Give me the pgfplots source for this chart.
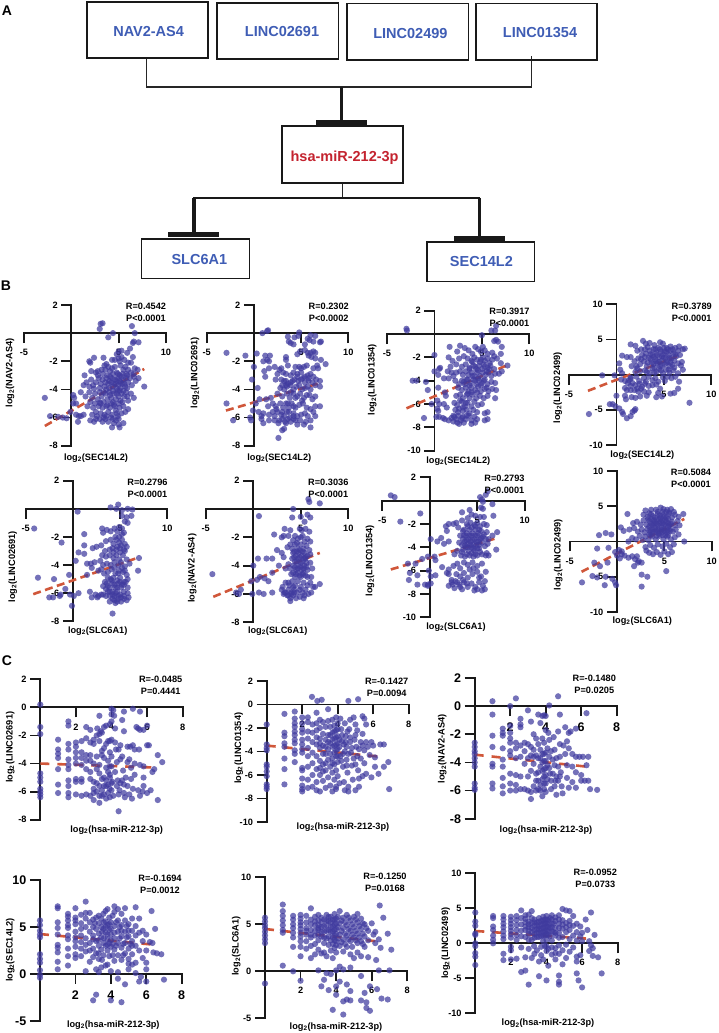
\documentclass[border=0pt]{standalone}
\usepackage{fontspec}
\setmainfont{Liberation Sans}
\usepackage{pgfplots}
\pgfplotsset{compat=1.18}
\newcommand{\fs}[1]{\fontsize{#1}{#1}\selectfont}
\newcommand{\lt}{log\textsubscript{2}}
\definecolor{dot}{HTML}{3F3A9E}
\definecolor{trend}{HTML}{D0573A}
\definecolor{boxblue}{HTML}{3F5DB5}
\definecolor{mirred}{HTML}{C4232F}
% left, right, top, bottom of an axis, in reference pixels
\newcommand{\setpanel}[4]{\pgfmathsetmacro\pW{#2-#1}\pgfmathsetmacro\pH{#4-#3}\def\pL{#1}\def\pB{#4}}
\pgfplotsset{
  panel/.style={
    at={(\pL pt,{1033pt-\pB pt})},anchor=south west,width=\pW pt,height=\pH pt,
    scale only axis,clip=false,axis lines=middle,
    every inner x axis line/.append style={-},every inner y axis line/.append style={-},
    axis line style={-,black!90,line width=1.8pt,line cap=rect},
    tick align=outside,major tick length=10pt,minor tick num=0,
    tick style={black!90,line width=1.8pt},
    hide obscured x ticks=false,hide obscured y ticks=false,
    /pgf/number format/assume math mode=true,
    tick label style={font=\bfseries\fs{9.2},inner sep=0pt},
    xticklabel shift=6pt,yticklabel shift=3.5pt,
  },
  bigticks/.style={tick label style={font=\bfseries\fs{12.5}},xticklabel shift=6.5pt},
  xlab/.style n args={3}{xlabel={\lt(#1)},
    x label style={at={([xshift={(#2-\pL)*1pt},yshift={(\pB-#3)*1pt}]rel axis cs:0,0)},anchor=center,font=\bfseries\fs{9.2}}},
  ylab/.style n args={3}{ylabel={\lt(#1)},
    y label style={at={([xshift={(#2-\pL)*1pt},yshift={(\pB-#3)*1pt}]rel axis cs:0,0)},anchor=center,rotate=90,font=\bfseries\fs{9.2}}},
  sec/.style={xmin=-5,xmax=10,xtick={-5,5,10}},
  mir/.style={xmin=0,xmax=8,xtick={2,4,6,8}},
  dots/.style={only marks,mark=*,mark size=3.1pt,mark options={draw=dot,fill=dot,draw opacity=0,fill opacity=0.72}},
  fit/.style={no marks,trend,line width=2.6pt,dash pattern=on 8pt off 4.5pt},
  fitc/.style={no marks,trend,line width=2.6pt,dash pattern=on 9pt off 8pt},
}
\begin{document}
\begin{tikzpicture}
\useasboundingbox (0,0) rectangle (718pt,1033pt);

% B, top row
\setpanel{24}{166}{305}{445.7}
\begin{axis}[panel,sec,ymin=-8,ymax=2,ytick={2,-2,-4,-6,-8},
  xlab={SEC14L2}{96}{457.7},ylab={NAV2-AS4}{10}{373}]
\addplot[fit] coordinates {(-2.8,-6.6)(7.7,-2.55)};
\addplot[dots] coordinates {
(3.1,.66)(3.0,.3)(3.3,.7)(4.4,0)(3.9,-.3)(6.4,.5)(6.7,0)(6.6,-.6)(7.1,-.65)(6.5,-.7)(-2.8,-4.6)(-2.25,-5.9)(7.7,-3.8)(-1.4,-5.95)(-.9,-6.0)(-.5,-6.05)(-.1,-5.6)(.3,-4.6)(.2,-5.0)(.5,-5.0)(.5,-5.8)(.8,-5.9)(1.3,-5.8)
(5.0,-1.3)(4.8,-1.5)(5.3,-1.25)(6.2,-1.1)(5.9,-1.4)(5.3,-1.7)(4.3,-1.9)(3.4,-1.75)(2.4,-1.75)(1.9,-2.0)(2.0,-2.1)(6.5,-1.7)(5.6,-1.9)(6.3,-2.1)(5.0,-1.8)(4.6,-1.9)
(1.4,-3.0)(2.1,-2.7)(2.6,-2.8)(2.8,-2.7)(3.2,-2.6)(3.3,-2.9)(3.7,-2.2)(3.6,-2.6)(4.1,-2.7)(4.3,-2.5)(4.6,-2.4)(4.8,-2.8)(5.2,-2.3)(5.5,-2.6)(5.7,-2.4)(6.0,-2.6)(6.3,-2.8)(6.7,-2.5)(7.0,-2.6)(4.9,-2.9)(5.4,-2.9)(5.8,-2.9)(3.9,-2.4)(4.4,-2.9)(6.6,-2.9)
(1.0,-4.2)(1.3,-3.7)(1.6,-3.5)(1.9,-3.8)(2.1,-3.3)(2.3,-3.7)(2.6,-3.5)(2.9,-3.2)(3.1,-3.6)(3.3,-3.3)(3.5,-3.8)(3.7,-3.2)(3.9,-3.6)(4.1,-3.1)(4.2,-3.5)(4.4,-3.8)(4.6,-3.3)(4.7,-3.6)(4.9,-3.2)(5.0,-3.7)(5.1,-3.4)(5.3,-3.1)(5.4,-3.6)(5.5,-3.3)(5.7,-3.8)(5.8,-3.2)(6.0,-3.5)(6.2,-3.2)(6.4,-3.7)(6.6,-3.1)(6.8,-3.4)(7.1,-3.2)(4.0,-3.9)(3.0,-3.9)(2.4,-3.95)(4.8,-3.95)(5.2,-3.9)
(.2,-4.4)(1.5,-4.5)(1.9,-4.2)(2.2,-4.6)(2.5,-4.3)(2.8,-4.7)(3.0,-4.2)(3.2,-4.5)(3.4,-4.9)(3.6,-4.3)(3.8,-4.7)(4.0,-4.2)(4.2,-4.6)(4.4,-4.9)(4.5,-4.3)(4.7,-4.7)(4.9,-4.1)(5.0,-4.5)(5.2,-4.8)(5.3,-4.3)(5.6,-4.5)(5.8,-4.2)(6.0,-4.8)(6.3,-4.3)(2.0,-4.9)(3.0,-4.95)(6.6,-4.6)
(1.7,-5.2)(2.3,-5.3)(2.6,-5.6)(2.9,-5.2)(3.1,-5.7)(3.3,-5.3)(3.5,-5.8)(3.7,-5.2)(3.9,-5.6)(4.1,-5.3)(4.3,-5.8)(4.5,-5.1)(4.7,-5.5)(4.9,-5.9)(5.1,-5.3)(5.3,-5.7)(5.5,-5.2)(5.7,-5.6)(6.0,-5.4)(2.2,-5.8)(2.7,-5.9)(1.0,-5.9)
(.7,-6.3)(2.0,-6.2)(2.4,-6.3)(2.6,-6.1)(3.0,-6.1)(3.3,-6.3)(3.6,-6.1)(3.9,-6.3)(4.2,-6.0)(4.3,-6.7)(4.7,-6.2)(5.0,-6.5)(5.1,-6.7)(5.5,-6.4)(5.0,-6.1)(4.5,-6.4)
(3.6,-3.5)(3.8,-3.0)(4.0,-3.4)(4.3,-3.2)(4.5,-3.6)(4.8,-3.4)(5.1,-3.0)(5.2,-3.5)(5.6,-3.6)(5.9,-3.0)(3.4,-4.2)(3.7,-4.0)(4.1,-4.4)(4.4,-4.1)(4.8,-4.3)(5.1,-4.1)(5.5,-4.1)(5.9,-4.5)(3.1,-5.0)(3.8,-5.1)(4.2,-5.0)(4.6,-5.2)(5.0,-5.0)(5.4,-4.9)(3.4,-6.0)(3.7,-5.9)(4.4,-6.1)(4.8,-5.7)(2.5,-5.0)(2.8,-3.0)(3.5,-2.3)(5.1,-2.0)(6.0,-2.1)(5.9,-3.9)};
\end{axis}

\setpanel{206.7}{348.3}{305}{445.7}
\begin{axis}[panel,sec,ymin=-8,ymax=2,ytick={2,-2,-4,-6,-8},
  xlab={SEC14L2}{279.3}{457.7},ylab={LINC02691}{195}{373}]
\addplot[fit] coordinates {(-2.96,-5.5)(7,-3.55)};
\addplot[dots] coordinates {
(1.4,.15)(1.5,.2)(.9,0)(4.8,.05)(4.7,-.2)(6.0,-.15)(6.5,-.2)(3.6,-.25)(4.3,-.3)(5.7,-.4)(5.9,-.5)(7.1,-.6)(7.0,-.65)(3.9,-.7)(3.7,-.6)(4.2,-.8)(5.4,-.8)(6.3,-.6)
(-2.9,-1.4)(-.9,-1.6)(.3,-1.45)(1.2,-1.6)(1.7,-1.6)(3.4,-1.7)(3.4,-1.9)(4.6,-1.5)(4.9,-1.3)(5.4,-1.2)(5.7,-1.4)(6.0,-1.4)(6.3,-1.3)(6.5,-1.4)(5.8,-1.6)(6.1,-1.7)(6.5,-1.8)(7.1,-1.9)
(1.4,-1.9)(1.6,-2.0)(1.0,-2.0)(0,-2.4)(1.1,-2.7)(1.6,-2.5)(2.2,-2.4)(3.6,-2.3)(2.9,-2.5)(4.4,-2.4)(4.8,-2.4)(5.0,-2.5)(5.3,-2.4)(5.6,-2.3)(6.3,-2.5)(6.7,-2.3)(7.6,-2.2)(6.8,-2.5)
(-.2,-3.3)(1.2,-3.1)(2.5,-2.9)(2.7,-2.6)(3.1,-2.8)(3.4,-2.9)(3.9,-3.0)(4.2,-2.8)(4.6,-2.9)(5.0,-2.8)(5.4,-3.1)(5.7,-3.0)(6.0,-2.9)(6.3,-3.1)(6.6,-3.3)(7.0,-3.4)(2.3,-3.3)(3.4,-3.4)(3.9,-3.5)(4.3,-3.3)(4.7,-3.4)(5.0,-3.3)(5.4,-3.5)(5.8,-3.4)(6.2,-3.5)
(.4,-3.9)(2.8,-3.9)(3.0,-3.7)(3.2,-4.0)(3.5,-3.8)(3.9,-3.7)(4.2,-4.0)(4.5,-3.8)(4.8,-3.7)(5.1,-4.0)(5.4,-3.9)(5.7,-3.8)(6.0,-4.0)(6.5,-3.7)(7.0,-3.8)
(.6,-4.7)(1.3,-4.7)(1.8,-4.6)(2.5,-4.3)(3.0,-4.5)(3.5,-4.3)(3.8,-4.6)(4.2,-4.3)(4.6,-4.5)(4.9,-4.3)(5.3,-4.6)(5.6,-4.4)(5.9,-4.4)(6.2,-4.7)(6.5,-4.5)
(.2,-5.0)(1.5,-5.2)(2.0,-5.0)(2.3,-5.2)(2.8,-5.0)(3.1,-5.3)(3.4,-5.0)(3.7,-5.3)(4.0,-5.0)(4.4,-5.3)(4.8,-5.1)(5.2,-5.0)(5.6,-5.3)(6.0,-5.4)(6.5,-5.2)(7.0,-5.2)(-2.9,-5.0)(-.1,-5.5)
(-2.2,-6.2)(-.4,-6.0)(-.3,-6.2)(.5,-5.6)(.8,-5.9)(1.0,-5.7)(1.6,-5.8)(2.0,-5.6)(2.2,-5.9)(2.5,-5.6)(2.9,-5.8)(3.2,-5.9)(3.5,-5.6)(3.8,-6.0)(4.2,-5.7)(4.6,-5.9)(5.0,-5.8)(5.4,-5.7)(5.7,-5.9)(6.3,-5.6)(6.5,-5.9)
(.8,-6.1)(1.0,-6.4)(1.6,-6.2)(2.2,-6.2)(2.6,-6.4)(3.0,-6.1)(3.3,-6.3)(3.6,-6.1)(3.9,-6.3)(4.2,-6.1)(4.6,-6.5)(4.9,-6.2)(5.3,-6.5)(5.5,-6.3)(6.0,-6.2)(6.0,-6.7)(3.2,-6.8)(3.0,-6.9)(2.6,-7.45)
(4.2,-5.9)(4.4,-6.2)(3.4,-6.4)(3.7,-5.6)(2.7,-6.2)(2.4,-5.4)(3.0,-5.6)(3.6,-5.0)(4.2,-5.2)(3.9,-4.2)(4.1,-3.4)(3.6,-3.6)(4.4,-4.6)(5.1,-4.8)(2.9,-3.3)(3.2,-3.4)(3.4,-3.7)(4.6,-3.1)(5.2,-3.2)(5.8,-3.2)};
\end{axis}

\setpanel{387}{529.3}{310.7}{450.7}
\begin{axis}[panel,sec,ymin=-10,ymax=2,ytick={2,-2,-4,-6,-8,-10},
  xlab={SEC14L2}{458.3}{460.7},ylab={LINC01354}{372.3}{380}]
\addplot[fit] coordinates {(-2.95,-6.37)(7.7,-2.66)};
\addplot[dots] coordinates {
(-2.9,.3)(-2.95,.45)(5.0,-.1)(6.0,.3)(6.4,.3)(6.5,.7)(6.5,-.5)(6.3,-.6)(6.7,-.65)
(1.6,-1.1)(3.2,-1.2)(2.7,-1.0)(4.3,-1.1)(4.6,-1.3)(4.9,-1.5)(5.1,-1.1)(5.3,-1.4)(5.6,-1.7)(7.1,-1.1)(6.1,-1.6)(6.3,-1.9)(4.0,-1.7)(3.6,-1.4)(2.4,-1.5)(0,-1.8)(7.0,-1.7)
(1.5,-2.0)(1.9,-2.3)(2.6,-2.1)(3.1,-1.9)(3.5,-2.1)(3.9,-2.3)(4.2,-2.0)(4.5,-2.2)(4.8,-2.4)(5.1,-2.0)(5.3,-2.3)(5.6,-2.1)(5.8,-2.5)(6.1,-2.2)(6.6,-2.1)(7.0,-2.5)(1.7,-2.8)(.6,-2.9)(.5,-3.0)
(2.3,-2.6)(2.9,-2.8)(3.3,-2.6)(3.7,-2.9)(4.1,-2.7)(4.4,-3.0)(4.7,-2.7)(5.0,-3.0)(5.3,-2.8)(5.6,-2.9)(5.9,-2.7)(6.3,-3.0)(7.7,-2.7)(7.1,-3.2)
(0,-3.2)(.4,-3.5)(1.4,-3.2)(1.8,-3.3)(2.0,-3.6)(2.3,-3.3)(2.7,-3.2)(3.0,-3.5)(3.3,-3.2)(3.6,-3.5)(3.9,-3.3)(4.2,-3.6)(4.5,-3.3)(4.8,-3.6)(5.1,-3.3)(5.4,-3.5)(5.7,-3.3)(6.0,-3.6)(6.4,-3.4)(6.8,-3.4)(-2.3,-4.0)(-1.9,-4.0)(-.9,-4.1)(1.0,-3.8)(1.5,-3.8)
(2.2,-4.0)(2.6,-4.3)(2.9,-4.0)(3.2,-4.3)(3.5,-3.9)(3.8,-4.2)(4.1,-3.9)(4.4,-4.3)(4.7,-4.0)(5.0,-4.2)(5.3,-3.9)(5.6,-4.3)(6.0,-4.1)(6.4,-4.2)(-.7,-4.8)(.4,-4.6)(2.5,-4.6)(2.9,-4.8)(3.3,-4.6)(3.6,-4.9)(3.9,-4.6)(4.3,-4.8)(4.6,-4.5)(4.9,-4.9)(5.3,-4.7)(5.7,-4.9)(6.1,-4.7)(6.5,-4.8)
(1.1,-5.0)(1.2,-5.3)(2.3,-5.3)(2.7,-5.2)(3.0,-5.5)(3.4,-5.2)(3.7,-5.5)(4.0,-5.2)(4.4,-5.5)(4.8,-5.3)(5.2,-5.5)(5.6,-5.3)(6.4,-5.5)(.3,-5.7)(-.3,-6.0)(.5,-6.0)(1.0,-6.0)(1.3,-6.3)
(2.1,-5.9)(2.4,-6.1)(2.9,-5.8)(3.2,-6.2)(3.5,-5.9)(3.9,-6.2)(4.2,-5.8)(4.6,-6.1)(5.0,-6.0)(.3,-6.4)(.4,-6.6)(2.2,-6.5)(2.6,-6.4)(3.0,-6.6)(3.4,-6.5)(3.7,-6.8)(4.1,-6.5)(4.5,-6.7)(5.3,-6.8)(5.6,-6.7)
(-1.1,-7.2)(.2,-7.1)(.5,-7.1)(.9,-7.2)(1.1,-7.3)(1.5,-7.4)(2.0,-7.0)(2.3,-7.3)(2.5,-7.0)(2.8,-7.4)(3.0,-7.1)(3.3,-7.3)(3.6,-7.0)(3.9,-7.4)(4.2,-7.1)(4.5,-7.3)(2.6,-7.7)(2.0,-7.5)(3.9,-7.7)(4.3,-7.6)(5.3,-7.4)(5.6,-7.3)
(3.7,-3.0)(4.0,-2.4)(4.3,-2.8)(4.6,-3.1)(4.9,-2.2)(5.2,-2.6)(5.5,-3.2)(5.8,-3.0)(3.4,-3.9)(3.7,-4.4)(4.0,-3.6)(4.3,-4.0)(4.6,-3.8)(4.9,-4.4)(5.2,-4.0)(5.5,-4.6)(3.1,-4.1)(3.5,-5.1)(3.9,-5.0)(4.5,-5.0)(3.0,-6.3)(2.5,-6.7)(2.9,-7.2)(2.4,-7.6)(3.1,-7.6)(2.1,-7.1)(3.4,-7.0)(1.8,-7.2)(2.7,-5.7)(3.3,-5.9)};
\end{axis}

\setpanel{569}{711.3}{304.3}{445}
\begin{axis}[panel,sec,ymin=-10,ymax=10,ytick={10,5,-5,-10},
  xlab={SEC14L2}{642.3}{454.7},ylab={LINC02499}{557.7}{388}]
\addplot[fit] coordinates {(-3,-2.3)(6.7,2.76)};
\addplot[dots] coordinates {
(-2.9,-5.6)(-.2,-.1)(-1.5,-.1)(7.7,-4.0)(0,-3.0)(-.4,-4.2)(-.7,-4.2)(-.1,-4.5)(.3,-4.8)(.6,-5.3)(.7,-5.6)(1.1,-6.2)(1.5,-5.9)(1.7,-5.3)(1.9,-5.1)(2.0,-4.9)
(.3,1.6)(.4,.7)(.6,.2)(.6,2.7)(1.1,2.5)(1.5,2.5)(1.5,-.4)(.5,-.7)(.9,-.9)(1.2,-1.2)(1.5,-1.6)(.9,-1.9)(1.1,-2.2)(1.5,-2.2)(1.9,-2.2)(2.2,-2.0)(2.3,-2.4)(2.6,-2.0)(.9,-3.0)(1.0,-3.5)(1.6,-3.2)(2.0,-3.3)(2.5,-3.1)
(1.5,4.3)(2.0,4.1)(2.2,3.4)(2.8,4.8)(3.1,4.4)(3.0,3.6)(3.5,4.5)(4.0,4.2)(4.6,4.6)(4.9,4.4)(5.3,3.8)(5.7,4.0)(6.2,3.8)(6.6,4.0)(7.0,3.6)(7.2,3.7)(6.5,3.4)
(1.6,1.2)(1.9,1.9)(2.1,1.2)(2.3,2.3)(2.5,1.5)(2.7,2.8)(2.9,1.9)(3.1,3.0)(3.2,1.2)(3.4,2.4)(3.5,3.4)(3.7,1.7)(3.8,2.8)(3.9,3.6)(4.0,1.0)(4.1,2.2)(4.2,3.1)(4.3,1.6)(4.4,3.8)(4.5,2.5)(4.6,1.2)(4.7,3.3)(4.8,2.0)(4.9,2.9)(5.0,3.8)(5.1,1.5)(5.2,2.4)(5.3,3.2)(5.4,1.9)(5.5,2.8)(5.6,1.2)(5.7,3.4)(5.8,2.3)(5.9,1.4)(6.0,3.0)(6.1,2.0)(6.3,2.6)(6.5,1.6)(6.7,2.8)(6.9,1.8)(7.0,.7)(6.8,1.3)
(3.0,.6)(3.5,.3)(3.8,.9)(4.2,.4)(4.5,.8)(4.9,.2)(5.2,.7)(5.6,.3)(6.0,.6)(6.5,.2)(2.5,.5)(2.0,.4)
(1.5,-.6)(2.1,-.3)(2.4,-.9)(2.9,-.5)(3.1,-1.0)(3.4,-.3)(3.8,-.8)(4.1,-.5)(4.4,-1.0)(4.9,-.4)(5.1,-.9)(5.4,-.3)(5.8,-.5)(6.2,-.3)
(1.3,-.8)(1.7,-1.2)(2.0,-1.5)(2.4,-1.3)(2.7,-1.7)(3.0,-1.3)(3.4,-1.6)(3.8,-1.5)(4.2,-1.4)(6.6,-1.0)(6.5,-2.0)(6.1,-2.6)(5.7,-2.7)(4.6,-2.0)(4.4,-2.6)(4.2,-3.2)(4.8,-3.1)(3.2,-3.0)(3.4,-2.5)(2.9,-2.4)
(2.6,3.6)(3.3,3.9)(3.6,2.9)(3.9,2.5)(4.1,3.6)(4.3,2.8)(4.6,3.6)(4.8,2.6)(5.1,3.3)(5.4,3.6)(5.6,2.4)(5.9,3.6)(6.2,2.9)(2.6,2.2)(3.0,2.5)(3.3,1.7)(3.6,2.2)(3.9,1.5)(4.2,1.9)(4.5,1.8)(4.8,1.3)(5.0,2.4)(5.3,1.7)(5.7,1.7)(6.1,1.0)(2.2,.9)(3.2,.4)(4.0,.3)(4.7,.6)(5.5,.7)};
\end{axis}

% B, bottom row
\setpanel{25.7}{167.3}{480.7}{621.3}
\begin{axis}[panel,sec,ymin=-8,ymax=2,ytick={2,-2,-4,-6,-8},
  xlab={SLC6A1}{97.7}{631},ylab={LINC02691}{12.7}{566.7}]
\addplot[fit] coordinates {(-4.2,-6.07)(7,-3.45)};
\addplot[dots] coordinates {
(-4.1,-1.4)(-1.2,-2.4)(.5,-.2)(-3.7,-4.9)(-2.0,-5.0)(-2.5,-6.3)(-2.1,-6.3)(-1.4,-6.2)(-1.3,-6.1)(-.8,-5.7)(-.4,-4.7)(-.3,-6.1)(-.1,-6.9)(.1,-6.2)(.6,-6.0)(.3,-3.7)(.6,-3.1)(1.2,-3.2)(1.2,-2.6)(1.2,-1.8)
(4.0,.1)(4.8,.3)(4.6,.0)(5.2,-.1)(5.8,0)(6.3,-.05)(5.2,-.5)(5.7,-.6)(6.2,-.5)(5.5,-.9)(5.8,-1.0)(4.9,-1.3)
(3.1,-1.4)(3.2,-1.7)(3.6,-1.5)(4.0,-1.6)(4.4,-1.4)(4.7,-1.6)(5.2,-1.4)(5.4,-1.7)(2.1,-2.8)(2.5,-2.7)(3.0,-2.6)(3.5,-2.3)(4.0,-2.2)(4.3,-2.5)(4.6,-2.2)(4.9,-2.4)(5.2,-2.2)(5.5,-2.5)(3.4,-3.0)(3.9,-2.9)(4.2,-2.8)(4.6,-2.9)(5.0,-2.8)(5.4,-2.9)(5.7,-2.7)
(1.5,-3.9)(1.9,-3.9)(2.3,-3.8)(2.9,-3.7)(3.1,-3.3)(3.5,-3.4)(3.9,-3.3)(4.3,-3.5)(4.6,-3.3)(4.9,-3.6)(5.3,-3.3)(5.7,-3.6)(3.2,-4.0)(3.6,-3.9)(4.0,-4.0)(4.4,-3.8)(4.8,-4.0)(5.1,-3.8)(5.5,-4.1)(6.0,-3.9)(7.0,-3.5)(6.9,-4.4)(1.5,-4.7)(2.7,-4.4)(3.0,-4.3)(3.3,-4.6)(3.7,-4.5)(4.1,-4.3)(4.5,-4.6)(4.9,-4.4)(5.3,-4.5)(5.7,-4.7)
(2.0,-4.2)(3.7,-4.9)(4.0,-5.0)(4.3,-4.9)(4.7,-5.1)(5.0,-4.9)(5.4,-5.2)(5.8,-5.0)(3.2,-5.5)(3.6,-5.3)(3.9,-5.6)(4.2,-5.3)(4.5,-5.6)(4.8,-5.3)(5.1,-5.6)(5.4,-5.4)(5.8,-5.6)(3.4,-5.2)
(1.8,-5.9)(2.0,-6.3)(2.4,-6.1)(2.7,-6.2)(2.6,-6.3)(3.2,-6.1)(3.7,-5.9)(3.9,-6.2)(4.2,-5.9)(4.4,-6.2)(4.7,-5.9)(5.0,-6.1)(5.4,-5.9)(5.8,-6.0)(5.9,-6.3)(3.9,-6.6)(4.2,-6.4)(4.5,-6.7)(4.8,-6.4)(5.1,-6.6)(5.4,-6.4)(5.7,-6.5)(4.2,-7.45)
(4.5,-2.0)(4.9,-2.0)(5.2,-1.8)(4.7,-2.7)(5.1,-2.6)(5.5,-3.0)(5.0,-3.1)(4.3,-3.1)(4.4,-4.2)(4.8,-4.6)(5.2,-4.2)(5.5,-4.4)(3.7,-5.5)(4.1,-5.1)(4.4,-5.4)(4.7,-5.6)(5.0,-5.2)(5.2,-5.4)(5.6,-5.2)(3.5,-5.7)(3.9,-5.9)(4.2,-6.1)(4.5,-6.0)(4.8,-6.2)(5.1,-6.3)(5.4,-6.2)(4.4,-6.5)(4.7,-6.6)(3.5,-6.2)(3.0,-6.1)};
\end{axis}

\setpanel{205.7}{348.3}{480.7}{622.3}
\begin{axis}[panel,sec,ymin=-8,ymax=2,ytick={2,-2,-4,-6,-8},
  xlab={SLC6A1}{277.7}{631},ylab={NAV2-AS4}{192.3}{568.3}]
\addplot[fit] coordinates {(-4.2,-6.2)(7,-3.1)};
\addplot[dots] coordinates {
(-4.3,-4.6)(-1.8,-5.9)(-1.5,-6.0)(-1.3,-5.7)(-.2,-5.1)(0,-4.0)(.4,-5.0)(.6,-5.9)(-.1,-6.0)(1.1,-6.0)(.6,-.5)(.5,-3.5)(1.4,-3.5)(2.0,-3.5)(2.0,-4.5)(1.2,-4.9)(1.6,-5.1)(2.7,-4.0)(.7,-4.8)
(5.8,.7)(5.9,.5)(7.0,.4)(4.2,0)(5.7,-.4)(5.0,-.55)(4.1,-.6)(6.0,-.6)(5.4,-.9)(3.3,-1.4)(3.2,-1.9)(3.0,-2.0)(3.7,-1.9)(2.2,-1.8)(3.9,-1.5)(4.9,-1.4)(5.1,-1.5)(5.5,-1.4)(5.9,-1.6)(5.2,-1.9)(5.7,-2.1)(6.0,-2.3)(4.4,-1.9)(4.7,-2.1)
(2.5,-2.9)(3.0,-3.1)(3.6,-2.7)(3.9,-2.5)(4.1,-2.8)(4.4,-2.5)(4.7,-2.8)(5.0,-2.5)(5.3,-2.8)(5.6,-2.6)(5.9,-2.9)(4.2,-3.1)(4.5,-3.3)(4.8,-3.1)(5.1,-3.3)(5.4,-3.1)(5.7,-3.3)(6.0,-3.2)(4.1,-3.5)(4.4,-3.7)(4.7,-3.5)(5.0,-3.8)(5.3,-3.5)(5.6,-3.8)(6.0,-3.8)(3.2,-3.4)(3.7,-3.9)
(3.4,-4.2)(3.9,-4.2)(4.2,-4.0)(4.5,-4.3)(4.8,-4.0)(5.1,-4.3)(5.4,-4.0)(5.7,-4.3)(6.2,-4.2)(4.0,-4.6)(4.4,-4.8)(4.7,-4.5)(5.0,-4.8)(5.3,-4.5)(5.7,-4.8)(6.1,-4.8)(7.0,-5.3)(6.5,-5.5)
(3.1,-5.5)(3.4,-5.2)(3.8,-5.4)(4.1,-5.1)(4.4,-5.4)(4.7,-5.1)(5.0,-5.5)(5.3,-5.2)(5.7,-5.4)(6.0,-5.2)(6.3,-5.5)(6.1,-5.9)(2.0,-5.9)(3.0,-5.7)(3.4,-5.9)(3.7,-5.7)(4.0,-5.9)(4.3,-5.7)(4.6,-5.9)(4.9,-5.7)(5.2,-5.9)(5.5,-5.7)(5.8,-6.0)
(3.2,-6.0)(3.6,-6.1)(3.9,-6.3)(4.2,-6.1)(4.5,-6.3)(4.9,-6.2)(5.3,-6.3)(3.9,-6.5)(5.4,-6.1)
(4.3,-3.0)(4.6,-3.0)(4.9,-2.9)(5.2,-3.0)(5.5,-3.4)(4.3,-3.4)(4.6,-3.7)(4.9,-3.4)(5.2,-3.7)(5.5,-3.5)(4.4,-4.1)(4.7,-4.2)(5.0,-4.1)(5.3,-4.2)(5.6,-4.1)(4.2,-4.5)(4.5,-4.6)(4.9,-4.7)(5.2,-4.6)(5.5,-4.7)(4.2,-2.2)(4.6,-2.4)(5.0,-2.0)(5.4,-2.3)(3.7,-5.2)(4.2,-5.5)(3.3,-5.9)(3.7,-6.1)(4.3,-5.9)(4.0,-6.0)};
\end{axis}

\setpanel{382.3}{524.7}{477.3}{617.3}
\begin{axis}[panel,sec,ymin=-10,ymax=2,ytick={2,-2,-4,-6,-8,-10},
  xlab={SLC6A1}{456}{627},ylab={LINC01354}{370}{561}]
\addplot[fit] coordinates {(-4.1,-5.9)(7.1,-3.2)};
\addplot[dots] coordinates {
(-4.1,.45)(-3.7,.3)(-3.1,-1.8)(-1.0,-1.1)(5.5,.1)(5.3,.3)(5.9,.5)(6.1,.8)(5.6,-.1)(6.6,-.3)(5.4,-.6)(5.6,-.7)(6.7,-1.3)
(3.4,-1.0)(4.2,-.8)(4.4,-1.2)(4.0,-1.5)(4.8,-1.3)(5.3,-1.4)(5.7,-1.4)(3.4,-1.7)(2.5,-2.0)(2.8,-1.9)(3.0,-2.3)(2.0,-2.0)(1.7,-2.2)(3.9,-2.0)(4.3,-1.9)(4.7,-2.1)(5.0,-1.9)(5.3,-2.2)(5.7,-2.0)(6.0,-2.1)(1.8,-2.6)(7.1,-2.7)(6.6,-3.0)
(.1,-3.3)(.8,-3.5)(1.2,-3.2)(1.5,-3.7)(2.0,-3.5)(3.5,-2.6)(3.9,-2.8)(4.2,-2.5)(4.5,-2.8)(4.8,-2.5)(5.1,-2.8)(5.4,-2.6)(5.7,-2.9)(6.0,-2.7)(3.2,-3.0)(3.5,-3.3)(3.8,-3.0)(4.1,-3.3)(4.4,-3.0)(4.7,-3.3)(5.0,-3.0)(5.3,-3.3)(5.6,-3.1)(5.9,-3.3)(6.2,-3.3)
(3.1,-3.6)(3.4,-3.8)(3.7,-3.5)(4.0,-3.7)(4.3,-3.5)(4.6,-3.8)(4.9,-3.5)(5.2,-3.8)(5.5,-3.6)(5.8,-3.9)(6.1,-3.7)(3.5,-4.2)(3.8,-4.0)(4.1,-4.3)(4.4,-4.0)(4.7,-4.3)(5.0,-4.1)(5.3,-4.4)(7.0,-4.2)(6.0,-4.5)(2.9,-4.3)(-2.3,-5.4)(-1.5,-5.4)(-.8,-5.0)(-.2,-4.8)(.5,-4.8)(.6,-5.1)
(2.6,-4.6)(3.3,-4.7)(3.7,-4.8)(4.2,-4.7)(4.6,-4.8)(5.0,-4.7)(5.5,-4.6)(5.9,-4.7)(6.2,-4.7)(1.3,-5.7)(2.0,-5.9)(2.5,-5.6)(2.9,-5.4)(3.2,-5.8)(3.6,-5.3)(4.0,-5.5)(4.5,-5.3)(5.0,-5.6)(5.5,-5.4)
(-2.1,-6.2)(-1.3,-6.4)(-.1,-6.0)(.1,-6.5)(.6,-6.4)(1.8,-6.2)(2.0,-6.3)(2.8,-6.3)(3.2,-6.5)(3.6,-6.2)(4.0,-6.6)(4.5,-6.3)(5.0,-6.1)(5.4,-6.5)(5.9,-6.1)(-2.2,-6.8)(-1.3,-7.2)(-.5,-7.2)(-.2,-7.3)(.1,-7.1)
(2.0,-7.3)(2.3,-7.0)(2.6,-7.5)(2.9,-7.0)(3.2,-7.4)(3.6,-7.0)(4.0,-7.4)(4.4,-7.1)(4.8,-7.4)(5.2,-7.0)(5.6,-7.3)(5.8,-6.9)(2.4,-7.2)(3.4,-7.6)(4.7,-7.7)(5.0,-7.6)(5.5,-7.7)(5.8,-7.6)(-.2,-7.2)
(3.6,-3.0)(3.9,-3.4)(4.2,-3.0)(4.5,-3.4)(4.8,-3.0)(5.1,-3.5)(5.4,-3.2)(3.7,-3.8)(4.0,-4.0)(4.3,-3.8)(4.6,-4.1)(4.9,-3.8)(5.2,-4.1)(3.6,-2.5)(4.0,-2.2)(4.4,-2.3)(4.8,-2.2)(5.2,-2.5)(3.4,-4.4)(3.9,-4.6)(4.4,-4.5)(4.8,-4.6)(2.3,-6.8)(2.7,-6.9)(3.1,-7.2)(3.5,-6.8)(3.9,-7.1)(4.2,-5.9)(4.6,-5.8)(5.2,-6.6)};
\end{axis}

\setpanel{569.7}{711.7}{471}{612}
\begin{axis}[panel,sec,ymin=-10,ymax=10,ytick={10,5,-5,-10},
  xlab={SLC6A1}{642.3}{621},ylab={LINC02499}{558.3}{555}]
\addplot[fit] coordinates {(-3.75,-4.3)(7.1,3.2)};
\addplot[dots] coordinates {
(-3.7,-5.8)(-2.4,-3.0)(-2.6,-4.9)(-2.1,-5.1)(-1.3,-6.2)(-.5,-5.3)(-.2,-5.8)(-.1,-6.2)(-1.2,-5.0)(-2.1,-1.0)(-1.8,-3.5)(-1.0,-3.0)(-.9,-.9)(-1.2,1.2)(-.6,1.0)(-1.9,.9)
(-.2,-1.5)(0,-2.0)(.3,-2.4)(.2,-1.2)(.5,-1.4)(.5,-1.8)(.8,-2.0)(1.2,-2.3)(1.6,-2.1)(1.9,-2.5)(2.1,-2.1)(2.3,-2.8)(2.6,-3.0)(1.8,-3.5)(2.6,-4.7)(3.2,-5.0)(2.6,-6.4)(5.2,-4.2)(2.2,-3.0)(.4,2.0)(.7,1.5)
(3.1,-1.3)(3.4,-1.6)(3.8,-1.8)(4.2,-1.5)(4.6,-1.9)(5.0,-1.4)(5.4,-1.8)(5.8,-1.5)(3.0,-.8)(3.5,-.5)(3.9,-.9)(4.3,-.4)(4.8,-.7)(5.2,-.3)(5.6,-.8)(6.0,-.4)(1.2,0)(1.6,.5)(2.0,.3)(2.4,.8)(2.7,.2)(3.0,.7)(3.3,.2)(3.7,.7)(4.1,.3)(4.5,.8)(4.9,.3)(5.3,.7)(5.7,.3)(6.1,.6)(7.1,0)(6.5,1.0)
(1.3,1.7)(1.8,1.9)(2.2,1.4)(2.6,1.7)(2.9,1.3)(3.2,1.8)(3.5,1.3)(3.8,1.7)(4.1,1.3)(4.4,1.8)(4.7,1.3)(5.0,1.7)(5.3,1.3)(5.6,1.8)(5.9,1.4)(6.2,1.7)(1.7,2.6)(2.1,2.8)(2.5,2.4)(2.8,3.0)(3.1,2.4)(3.4,2.9)(3.7,2.3)(4.0,2.8)(4.3,2.3)(4.6,2.8)(4.9,2.3)(5.2,2.8)(5.5,2.3)(5.8,2.8)(6.1,2.3)(6.4,2.9)(6.6,2.3)
(2.8,3.8)(3.2,3.5)(3.6,3.9)(4.0,3.4)(4.3,3.9)(4.6,3.4)(4.9,3.8)(5.2,3.4)(5.5,3.9)(5.8,3.4)(6.1,3.8)(6.5,3.5)(7.0,3.9)(1.1,3.9)(3.0,4.4)(3.6,4.5)(4.6,4.8)(4.9,4.6)(5.3,4.5)(5.7,4.6)(6.0,4.2)(4.1,4.5)(3.4,1.0)(4.4,1.1)(5.1,.9)(4.7,2.0)(5.4,2.1)(4.0,2.0)(3.4,2.1)
(3.3,3.2)(3.6,3.2)(3.9,3.0)(4.2,3.1)(4.5,3.2)(4.8,3.0)(5.1,3.1)(5.4,3.2)(3.6,2.5)(3.9,2.5)(4.2,2.5)(4.5,2.6)(4.8,2.6)(5.1,2.4)(5.4,2.6)(5.7,2.5)(3.5,1.6)(3.8,1.4)(4.1,1.6)(4.4,1.5)(4.7,1.6)(5.0,1.5)(5.3,1.6)(5.6,1.5)(3.6,.9)(4.2,.8)(4.8,.9)(5.4,.9)(3.4,4.0)(4.3,4.2)(4.8,4.2)(5.2,4.2)(5.5,4.1)(3.8,3.6)(4.5,3.7)(5.0,3.5)};
\end{axis}

% C, top row
\setpanel{40.3}{182.7}{679.3}{819.7}
\begin{axis}[panel,mir,ymin=-8,ymax=2,ytick={2,0,-2,-4,-6,-8},
  xlab={hsa-miR-212-3p}{116.7}{830},ylab={LINC02691}{10.3}{747.3}]
\addplot[fitc] coordinates {(0,-4.0)(6.55,-4.29)};
\addplot[dots] coordinates {
(0,.2)(0,-1.4)(0,-1.9)(0,-4.7)(0,-5.0)(0,-5.3)(0,-5.8)(0,-6.0)(0,-6.2)(0,-6.4)
(1,-2.3)(1,-3.0)(1,-3.3)(1,-3.6)(1,-4.4)(1,-5.5)(1,-6.1)
(1.58,-1.0)(1.58,-1.3)(1.58,-2.6)(1.58,-3.0)(1.58,-3.7)(1.58,-4.1)(1.58,-4.4)(1.58,-5.2)(1.58,-5.6)(1.58,-6.1)(1.58,-6.4)
(2,-2.5)(2,-2.8)(2,-3.2)(2,-3.6)(2,-4.0)(2,-5.1)(2,-5.3)(2,-6.2)(2.32,-2.4)(2.32,-3.2)(2.32,-3.6)(2.32,-4.1)(2.32,-5.1)(2.32,-5.3)(2.32,-6.3)
(2.58,-1.4)(2.58,-2.2)(2.58,-3.4)(2.58,-3.8)(2.58,-4.4)(2.58,-6.2)(2.81,-1.6)(2.81,-2.5)(2.81,-3.4)(2.81,-3.8)(2.81,-4.6)(2.81,-5.1)(2.81,-6.3)
(3,-2.3)(3,-2.6)(3,-4.0)(3,-5.3)(3,-5.8)(3,-6.1)(3,-6.6)(3.17,-2.0)(3.17,-3.5)(3.17,-4.4)(3.17,-5.4)(3.17,-6.0)(3.32,-.6)(3.32,-1.9)(3.32,-2.4)(3.32,-4.1)(3.32,-4.7)(3.32,-5.6)(3.32,-6.3)(3.32,-6.8)
(3.46,-1.8)(3.46,-3.1)(3.46,-3.4)(3.46,-5.1)(3.46,-5.9)(3.58,-1.4)(3.58,-2.9)(3.58,-3.6)(3.58,-5.6)(3.58,-6.2)(3.7,-1.3)(3.7,-2.6)(3.7,-4.3)(3.7,-5.2)(3.7,-6.5)
(3.81,-2.4)(3.81,-3.8)(3.81,-4.6)(3.81,-5.5)(3.81,-6.1)(3.91,-1.2)(3.91,-2.4)(3.91,-3.2)(3.91,-4.8)(3.91,-5.0)(3.91,-6.4)(4,-.1)(4,-.5)(4,-1.0)(4,-2.3)(4,-3.5)(4,-4.2)(4,-5.4)(4,-5.9)
(4.1,-.2)(4.15,-.6)(4.2,-1.5)(4.25,-3.0)(4.3,-3.9)(4.35,-5.2)(4.4,-6.2)(4.4,-7.4)(4.5,-2.7)(4.6,-3.5)(4.65,-4.5)(4.7,-5.5)(4.75,-6.4)(4.6,-.9)(4.7,-.3)(4.7,-1.7)(4.9,-2.8)(5.0,-3.7)(5.1,-4.3)(5.1,-5.1)(5.15,-6.5)(5.2,-.1)(5.05,-2.8)(5.2,-2.7)(5.4,-1.4)(5.5,-1.5)(5.55,-3.0)(5.6,-4.1)(5.5,-5.9)(5.6,-6.3)
(5.6,-1.6)(5.8,-1.6)(5.6,-.3)(6.0,-1.3)(6.0,-2.7)(6.1,-2.7)(5.8,-4.2)(5.8,-5.0)(5.8,-5.6)(5.75,-6.0)(6.0,-6.1)(6.2,-5.9)(6.3,-4.6)(6.4,-4.4)(6.6,-3.4)(6.85,-3.9)(6.6,-6.6)
(4.2,-4.6)(4.3,-5.6)(4.45,-5.9)(4.6,-5.2)(4.7,-6.1)(4.9,-5.6)(5.0,-6.2)(5.2,-5.8)(3.7,-5.6)(3.9,-5.8)(4.05,-5.3)(3.46,-6.3)(3.58,-5.0)(4.1,-6.3)(4.5,-5.4)(4.8,-5.0)(4.5,-3.7)(4.9,-3.9)(4.2,-2.5)(3.9,-4.2)(5.3,-3.0)(5.3,-4.0)(4.4,-3.0)(3.2,-1.5)(3.4,-1.7)(5.3,-4.8)};
\end{axis}

\setpanel{266.7}{408.7}{681}{822}
\begin{axis}[panel,mir,ymin=-10,ymax=2,ytick={2,0,-2,-4,-6,-8,-10},
  xlab={hsa-miR-212-3p}{343}{827},ylab={LINC01354}{238.7}{748.3}]
\addplot[fitc] coordinates {(0,-3.5)(6.53,-4.46)};
\addplot[dots] coordinates {
(0,-1.7)(0,-3.4)(0,-3.7)(0,-3.9)(0,-5.1)(0,-5.3)(0,-5.7)(0,-6.1)(0,-6.8)(0,-7.0)(0,-7.2)
(1,-.8)(1,-2.4)(1,-2.7)(1,-3.3)(1,-3.6)(1,-4.6)(1,-5.5)(1,-6.8)(1.58,-.6)(1.58,-1.2)(1.58,-1.6)(1.58,-1.9)(1.58,-2.3)(1.58,-2.6)(1.58,-3.0)(1.58,-3.3)(1.58,-3.9)(1.58,-4.2)(1.58,-4.9)
(2,-1.1)(2,-1.6)(2,-2.1)(2,-2.4)(2,-3.0)(2,-3.4)(2,-3.8)(2,-4.1)(2,-5.4)(2,-5.6)(2,-6.3)(2,-6.9)(2,-7.2)(2,-7.4)(2.32,-1.1)(2.32,-1.5)(2.32,-2.3)(2.32,-2.9)(2.32,-3.7)(2.32,-4.4)(2.32,-5.3)(2.32,-6.4)(2.32,-7.1)
(2.58,-1.7)(2.58,-2.4)(2.58,-3.2)(2.58,-4.1)(2.58,-5.0)(2.58,-6.0)(2.58,-7.0)(2.81,-.7)(2.81,-1.6)(2.81,-2.8)(2.81,-3.4)(2.81,-4.4)(2.81,-5.5)(2.81,-6.6)(2.81,-7.3)(3,-2.0)(3,-2.9)(3,-3.7)(3,-4.8)(3,-6.0)(3,-7.4)
(3.17,-1.5)(3.17,-2.5)(3.17,-3.5)(3.17,-5.1)(3.17,-6.5)(3.32,-1.9)(3.32,-3.0)(3.32,-4.2)(3.32,-5.6)(3.32,-7.1)(3.46,-.4)(3.46,-1.4)(3.46,-2.6)(3.46,-3.8)(3.46,-4.7)(3.46,-6.2)(3.58,-1.9)(3.58,-3.3)(3.58,-5.3)(3.58,-6.9)
(3.7,-1.3)(3.7,-2.4)(3.7,-3.6)(3.7,-4.6)(3.7,-5.8)(3.81,-1.8)(3.81,-2.9)(3.81,-4.1)(3.81,-5.1)(3.81,-6.4)(3.91,-1.1)(3.91,-2.2)(3.91,-3.4)(3.91,-4.4)(3.91,-5.6)(3.91,-7.0)(4,-1.6)(4,-2.7)(4,-3.8)(4,-4.9)(4,-6.1)
(4.15,-1.2)(4.2,-2.1)(4.25,-3.1)(4.3,-4.2)(4.3,-5.3)(4.35,-6.6)(4.4,-1.6)(4.45,-2.7)(4.5,-3.6)(4.5,-4.7)(4.55,-5.8)(4.6,-7.0)(4.65,-2.1)(4.7,-3.2)(4.75,-4.1)(4.8,-5.2)(4.85,-6.4)(4.7,-1.3)(4.9,-1.1)(5.0,-2.6)(5.05,-3.6)(5.1,-4.4)(5.15,-5.6)(5.2,-7.0)(5.0,-7.3)(4.6,-7.4)
(4.6,.3)(5.15,.45)(3.1,.4)(2.55,.65)(2.85,.3)(5.4,-1.0)(5.5,-1.2)(5.6,-1.7)(5.4,-2.5)(5.6,-3.2)(5.7,-3.6)(5.8,-4.3)(5.5,-5.0)(5.6,-5.9)(5.9,-3.2)(6.0,-3.5)(6.1,-4.5)(6.1,-5.3)(6.3,-5.9)(6.4,-3.4)(6.6,-3.4)(6.85,-4.9)(6.6,-5.3)(6.9,-7.2)(5.9,-6.2)
(3.46,-3.2)(3.58,-2.6)(3.58,-4.2)(3.7,-3.0)(3.7,-5.0)(3.81,-3.5)(3.81,-2.3)(3.91,-3.9)(3.91,-2.8)(4,-3.3)(4,-4.4)(4,-2.1)(4.1,-3.0)(4.1,-3.6)(4.15,-4.4)(4.2,-4.8)(4.25,-2.6)(4.35,-3.4)(4.4,-4.0)(4.45,-3.2)(4.5,-5.2)(4.55,-2.3)(4.6,-4.2)(4.7,-2.8)(4.8,-3.7)(4.9,-4.6)(4.95,-3.0)(5.0,-1.7)(5.0,-5.1)(5.1,-2.2)(5.2,-3.8)(5.3,-3.2)(5.3,-4.6)(5.4,-3.5)(5.4,-6.1)(3.0,-1.3)(3.17,-4.2)(3.32,-3.6)(3.32,-5.0)(3.17,-5.7)(2.81,-2.2)(3,-3.3)(3,-5.4)(5.5,-3.9)(5.2,-6.3)(4.1,-6.7)(3.9,-7.2)(4.4,-7.3)(3.7,-7.4)};
\end{axis}

\setpanel{474.7}{616.7}{678}{818.7}
\begin{axis}[panel,mir,bigticks,ymin=-8,ymax=2,ytick={2,0,-2,-4,-6,-8},
  xlab={hsa-miR-212-3p}{546}{830},ylab={NAV2-AS4}{442.3}{749}]
\addplot[fitc] coordinates {(0,-3.45)(6.53,-4.33)};
\addplot[dots] coordinates {
(0,-2.6)(0,-2.9)(0,-3.2)(0,-3.4)(0,-3.7)(0,-4.0)(0,-4.3)(0,-5.5)(0,-5.8)(0,-5.95)
(1,.35)(1,-.6)(1,-2.1)(1,-2.9)(1,-4.1)(1,-4.3)(1,-5.5)(1,-5.85)(1.58,-1.6)(1.58,-1.9)(1.58,-2.1)(1.58,-3.0)(1.58,-3.8)(1.58,-4.3)(1.58,-5.1)(1.58,-5.7)(1.58,-6.2)
(2,.0)(2,-1.4)(2,-1.9)(2,-2.3)(2,-2.6)(2,-3.2)(2,-3.5)(2,-4.8)(2,-5.5)(2,-6.0)(2.32,.55)(2.32,-2.6)(2.32,-3.0)(2.32,-3.7)(2.32,-4.9)(2.32,-5.6)(2.32,-6.0)(2.58,-.9)(2.58,-1.3)(2.58,-1.5)(2.58,-2.8)(2.58,-3.6)(2.58,-5.0)(2.58,-5.9)
(2.81,-2.6)(2.81,-3.2)(2.81,-4.1)(2.81,-5.9)(3,-.3)(3,-2.7)(3,-3.7)(3,-5.0)(3,-6.0)(3.17,-1.1)(3.17,-2.9)(3.17,-3.5)(3.17,-4.6)(3.17,-6.1)(3.17,-6.6)(3.32,-2.0)(3.32,-3.1)(3.32,-4.1)(3.32,-5.7)(3.46,-2.3)(3.46,-3.5)(3.46,-4.8)(3.46,-6.0)
(3.58,-.6)(3.58,-2.7)(3.58,-3.7)(3.58,-5.3)(3.7,-1.2)(3.7,-3.1)(3.7,-4.3)(3.7,-5.6)(3.81,-.7)(3.81,-2.3)(3.81,-3.4)(3.81,-5.2)(3.81,-6.4)(3.91,-.65)(3.91,-2.6)(3.91,-3.9)(3.91,-5.0)(3.91,-5.9)(4,-.7)(4,-1.7)(4,-3.3)(4,-4.4)(4,-5.5)(4,-6.1)
(4.15,-1.9)(4.2,-2.4)(4.2,-3.6)(4.25,-4.8)(4.3,-5.9)(4.2,.05)(4.45,-2.2)(4.5,-3.1)(4.5,-4.2)(4.55,-5.3)(4.6,-6.3)(4.7,.7)(4.8,-.6)(4.7,-1.8)(4.8,-2.7)(4.8,-3.6)(4.85,-4.7)(4.9,-5.7)(4.95,-6.2)
(5.0,-2.8)(5.1,-3.4)(5.2,-4.2)(5.2,-5.1)(5.3,-5.8)(5.1,-1.5)(5.3,-1.9)(5.4,-1.8)(5.2,-2.5)(5.3,-3.0)(5.5,-3.4)(5.5,-4.3)(5.5,-5.4)(5.7,-1.6)(5.7,-3.6)(5.7,-4.7)(5.7,-5.8)(5.9,-3.6)(6.0,-4.9)(6.0,-5.3)(6.2,-5.3)(6.3,-.5)(6.4,-3.6)(6.3,-4.2)(6.4,-5.3)(6.5,-5.9)(6.9,-5.95)(6.1,-3.6)
(3.7,-3.7)(3.81,-4.0)(3.81,-4.6)(3.91,-3.4)(3.91,-4.5)(4,-3.9)(4,-4.9)(4.1,-3.0)(4.1,-4.2)(4.1,-5.2)(4.2,-4.4)(4.3,-3.2)(4.3,-5.3)(4.4,-3.8)(4.4,-4.8)(4.6,-3.7)(4.6,-5.0)(4.7,-4.3)(4.7,-5.3)(3.58,-4.7)(3.58,-5.9)(3.46,-5.3)(3.32,-3.6)(3.7,-6.0)(4.5,-5.7)(4.8,-5.0)(3.91,-5.5)};
\end{axis}

% C, bottom row
\setpanel{40}{181.7}{880}{1021}
\begin{axis}[panel,mir,bigticks,ymin=-5,ymax=10,ytick={10,5,0,-5},
  xlab={hsa-miR-212-3p}{113.3}{1025},ylab={SEC14L2}{10.3}{950}]
\addplot[fitc] coordinates {(0,4.25)(6.53,3.1)};
\addplot[dots] coordinates {
(0,5.7)(0,5.2)(0,4.6)(0,4.2)(0,3.9)(0,2.1)(0,1.6)(0,1.2)(0,.4)(0,-.1)(0,-.4)
(1,7.2)(1,7.0)(1,5.5)(1,4.9)(1,4.2)(1,3.1)(1,2.8)(1,2.3)(1,1.3)(1,.5)(1.58,6.4)(1.58,6.1)(1.58,5.7)(1.58,5.2)(1.58,4.9)(1.58,4.1)(1.58,3.7)(1.58,2.7)(1.58,1.9)(1.58,.9)
(2,7.0)(2,6.0)(2,5.7)(2,5.3)(2,4.5)(2,3.9)(2,3.5)(2,2.9)(2,2.1)(2,1.7)(2.32,6.3)(2.32,5.4)(2.32,4.8)(2.32,4.1)(2.32,3.4)(2.32,2.7)(2.32,1.9)(2.58,7.7)(2.58,6.5)(2.58,5.9)(2.58,5.0)(2.58,3.8)(2.58,3.1)(2.58,2.4)(2.58,.3)
(2.81,6.5)(2.81,5.5)(2.81,4.5)(2.81,3.3)(2.81,2.5)(2.81,1.3)(3,5.8)(3,5.0)(3,4.1)(3,3.7)(3,2.7)(3,1.8)(3,-2.8)(3.17,6.0)(3.17,4.8)(3.17,3.5)(3.17,2.2)(3.17,.5)(3.17,-2.2)(3.32,6.2)(3.32,5.4)(3.32,4.3)(3.32,3.0)(3.32,1.6)(3.32,.2)
(3.46,5.9)(3.46,5.0)(3.46,3.9)(3.46,2.6)(3.46,.7)(3.58,6.4)(3.58,4.8)(3.58,3.3)(3.58,2.0)(3.7,6.7)(3.7,5.6)(3.7,4.4)(3.7,3.0)(3.7,.9)(3.81,6.9)(3.81,5.2)(3.81,3.7)(3.81,2.5)(3.81,1.0)(3.91,6.0)(3.91,4.7)(3.91,3.3)(3.91,1.9)(4,-2.8)(4,5.5)(4,4.2)(4,2.9)(4,.3)
(4.2,7.2)(4.2,6.6)(4.2,5.1)(4.2,3.8)(4.2,2.6)(4.2,1.4)(4.4,6.9)(4.4,5.7)(4.4,4.5)(4.4,3.3)(4.4,2.0)(4.4,.2)(4.4,-.5)(4.6,6.4)(4.6,5.2)(4.6,4.0)(4.6,2.8)(4.6,1.5)(4.6,-3.0)(4.8,7.0)(4.8,5.7)(4.8,4.5)(4.8,3.3)(4.8,2.2)(4.8,-1.1)
(5.0,5.3)(5.0,4.0)(5.0,2.7)(5.0,1.6)(5.0,.5)(5.2,5.9)(5.2,4.6)(5.2,3.5)(5.2,2.1)(5.2,1.0)(5.4,7.1)(5.4,5.1)(5.4,4.1)(5.4,3.0)(5.4,1.2)(5.4,.1)(5.6,5.9)(5.6,4.4)(5.6,2.5)(5.6,-.8)(5.7,-.3)(5.8,4.6)(5.8,3.5)(5.8,1.7)(6.0,4.2)(6.0,2.5)(6.0,1.2)(6.0,.5)(6.0,-.8)
(6.2,3.4)(6.3,6.7)(6.35,3.3)(6.4,2.3)(6.5,4.8)(6.6,2.2)(6.85,2.1)(7.0,-.6)
(3.1,5.4)(3.3,3.6)(3.5,4.5)(3.6,5.5)(3.6,3.8)(3.7,5.0)(3.8,4.2)(3.9,5.3)(4,4.8)(4,3.6)(4.1,6.2)(4.1,3.2)(4.2,4.4)(4.3,5.5)(4.3,3.0)(4.5,5.0)(4.5,3.8)(4.6,4.6)(4.7,3.2)(4.9,5.1)(4.9,3.9)(5.0,4.6)(5.1,3.2)(3.3,2.2)(3.5,1.5)(4.1,2.0)(4.7,2.0)(5.0,1.1)(5.2,3.0)(3.8,3.1)};
\end{axis}

\setpanel{265}{407.3}{877.3}{1018.3}
\begin{axis}[panel,mir,ymin=-5,ymax=10,ytick={10,5,0,-5},
  xlab={hsa-miR-212-3p}{336}{1026.7},ylab={SLC6A1}{236.3}{946}]
\addplot[fitc] coordinates {(0,4.5)(6.47,3.15)};
\addplot[dots] coordinates {
(0,5.7)(0,5.3)(0,4.9)(0,4.6)(0,4.2)(0,3.8)(0,3.4)(0,3.0)(0,-1.3)
(1,7.1)(1,6.4)(1,5.9)(1,5.4)(1,4.9)(1,4.4)(1,4.1)(1,.6)(1.58,5.9)(1.58,5.5)(1.58,5.0)(1.58,4.6)(1.58,4.1)(1.58,3.6)(1.58,2.6)(1.58,0)
(2,6.0)(2,5.6)(2,5.2)(2,4.9)(2,4.5)(2,4.1)(2,3.7)(2,3.2)(2,2.6)(2,1.6)(2,-1.0)(2.32,5.9)(2.32,5.2)(2.32,4.6)(2.32,3.9)(2.32,3.2)(2.32,2.4)(2.58,6.7)(2.58,5.5)(2.58,4.4)(2.58,3.6)(2.58,2.7)(2.58,1.4)(2.81,5.8)(2.81,4.9)(2.81,3.8)(2.81,2.9)(2.81,1.8)
(3,6.0)(3,5.4)(3,4.4)(3,3.3)(3,2.3)(3,.1)(3.17,5.7)(3.17,4.7)(3.17,3.7)(3.17,1.9)(3.17,-1.6)(3.32,5.5)(3.32,4.2)(3.32,3.0)(3.32,2.0)(3.32,-.9)(3.46,6.0)(3.46,4.9)(3.46,3.5)(3.46,1.6)(3.46,-.2)(3.58,5.3)(3.58,4.4)(3.58,2.8)(3.58,-2.0)
(3.7,5.8)(3.7,4.7)(3.7,3.3)(3.7,2.2)(3.7,-.3)(3.81,5.5)(3.81,4.2)(3.81,2.9)(3.81,1.4)(3.81,-4.1)(3.91,6.1)(3.91,5.0)(3.91,3.8)(3.91,2.5)(4,5.6)(4,4.5)(4,3.2)(4,2.0)(4,.1)(4,-1.6)(4,-2.5)
(4.2,6.4)(4.2,5.1)(4.2,3.9)(4.2,2.7)(4.2,.5)(4.2,-1.1)(4.4,5.7)(4.4,4.6)(4.4,3.4)(4.4,2.1)(4.4,.2)(4.4,-3.2)(4.4,-4.6)(4.6,6.0)(4.6,4.9)(4.6,3.8)(4.6,2.6)(4.6,-1.4)(4.6,-3.0)(4.8,5.4)(4.8,4.3)(4.8,3.2)(4.8,1.8)(4.8,.4)(4.8,-2.1)(4.8,-3.1)
(5.0,5.8)(5.0,4.7)(5.0,3.6)(5.0,1.4)(5.2,6.1)(5.2,5.2)(5.2,4.0)(5.2,3.0)(5.2,2.0)(5.4,5.6)(5.4,4.5)(5.4,3.2)(5.4,1.6)(5.4,-3.1)(5.4,-.5)(5.6,5.0)(5.6,3.7)(5.6,2.6)(5.7,-3.3)(5.7,-3.9)(5.8,4.3)(5.8,3.3)(5.8,1.5)(5.9,-1.6)(5.9,-4.2)
(6.0,5.1)(6.1,3.9)(6.2,3.0)(6.2,4.2)(6.25,1.2)(6.3,-1.9)(6.4,3.4)(6.5,2.5)(6.4,.1)(6.45,7.0)(6.65,5.7)(6.9,4.0)(7.1,2.3)(7.0,.1)(6.55,-2.9)(5.6,-2.3)(6.9,-3.0)
(2.81,5.3)(2.81,4.3)(3,4.9)(3,3.9)(3.17,5.2)(3.17,4.2)(3.32,4.8)(3.32,3.6)(3.46,5.4)(3.46,4.3)(3.58,5.8)(3.58,3.7)(3.7,5.2)(3.7,4.2)(3.81,4.8)(3.81,3.6)(3.91,5.5)(3.91,4.4)(3.91,3.3)(4,5.1)(4,4.0)(4,2.8)(4.1,5.8)(4.1,4.7)(4.1,3.5)(4.3,5.4)(4.3,4.3)(4.3,3.1)(4.5,5.2)(4.5,4.0)(4.5,2.9)(4.7,5.7)(4.7,4.5)(4.7,3.4)(4.9,5.0)(4.9,3.9)(4.9,2.6)(5.1,5.5)(5.1,4.3)(5.1,3.3)(5.3,4.8)(5.3,3.6)(5.5,5.1)(5.5,4.0)(5.5,2.9)(5.7,4.6)(2.32,4.3)(2.58,5.0)(2.58,3.9)(3,4.6)};
\end{axis}

\setpanel{475.3}{617.7}{873.3}{1013.3}
\begin{axis}[panel,mir,ymin=-10,ymax=10,ytick={10,5,0,-5,-10},
  xlab={hsa-miR-212-3p}{548}{1023.3},ylab={LINC02499}{445.7}{943.3}]
\addplot[fitc] coordinates {(0,1.76)(6.55,.62)};
\addplot[dots] coordinates {
(0,4.4)(0,3.1)(0,2.5)(0,1.4)(0,1.2)(0,.0)(0,-.4)(0,-1.4)(0,-1.9)(0,-3.1)
(1,3.9)(1,3.6)(1,2.4)(1,1.9)(1,1.1)(1,.5)(1,0)(1.58,3.9)(1.58,3.4)(1.58,2.8)(1.58,2.3)(1.58,1.7)(1.58,1.1)(1.58,.6)(1.58,-1.5)(1.58,-2.4)
(2,3.8)(2,3.3)(2,2.8)(2,2.3)(2,1.8)(2,1.3)(2,.8)(2,-.5)(2,-1.0)(2,-2.3)(2.32,3.9)(2.32,3.3)(2.32,2.6)(2.32,1.9)(2.32,1.2)(2.32,.5)(2.32,-2.2)(2.58,4.7)(2.58,3.6)(2.58,2.7)(2.58,1.8)(2.58,1.0)(2.58,-.6)(2.58,-4.1)(2.81,4.0)(2.81,3.0)(2.81,1.9)(2.81,.9)(2.81,-2.0)(2.81,-3.9)
(3,4.1)(3,3.1)(3,2.3)(3,1.3)(3,-.8)(3,-5.9)(3.17,4.6)(3.17,2.9)(3.17,1.6)(3.17,.5)(3.17,-2.1)(3.32,3.4)(3.32,2.5)(3.32,1.3)(3.32,-1.5)(3.46,3.0)(3.46,2.0)(3.46,.9)(3.46,-1.0)(3.58,3.6)(3.58,2.4)(3.58,1.5)(3.58,-2.6)(3.58,-4.7)
(3.7,3.2)(3.7,2.1)(3.7,1.0)(3.7,-1.7)(3.81,3.8)(3.81,2.8)(3.81,1.6)(3.81,.3)(3.81,-2.3)(3.91,3.4)(3.91,2.2)(3.91,1.1)(3.91,-.4)(4,3.9)(4,2.9)(4,1.8)(4,.5)(4,-1.1)(4,-5.3)(4.1,3.3)(4.1,2.3)(4.1,1.2)(4.1,-.8)(4.1,-3.2)
(4.3,4.0)(4.3,2.8)(4.3,1.7)(4.3,.4)(4.3,-1.6)(4.5,3.2)(4.5,2.2)(4.5,1.1)(4.5,-.7)(4.5,-2.3)(4.7,4.0)(4.7,2.8)(4.7,1.5)(4.7,-.3)(4.7,-1.5)(4.7,-4.6)(4.7,-5.5)(4.7,-5.9)(4.9,4.9)(4.9,3.3)(4.9,2.1)(4.9,.9)(4.9,-1.0)(4.9,-3.0)
(5.1,4.7)(5.1,2.9)(5.1,1.6)(5.1,-.2)(5.1,-2.1)(5.3,4.6)(5.3,3.2)(5.3,1.9)(5.3,.6)(5.3,-1.2)(5.5,3.9)(5.5,2.5)(5.5,1.1)(5.5,-.6)(5.7,2.8)(5.7,1.6)(5.7,.4)(5.7,-1.9)(5.9,2.4)(5.9,1.0)(5.9,-1.7)(5.7,-2.6)(5.7,-4.3)(5.8,-5.3)(6.0,1.5)(6.0,.3)(6.0,-6.3)
(6.2,3.4)(6.3,1.9)(6.4,.3)(6.5,4.4)(6.5,-.3)(6.4,-1.1)(6.7,1.2)(6.6,-.7)(6.6,-1.8)(7.1,-4.3)(6.9,-2.0)
(2.81,3.5)(2.81,2.4)(3,2.7)(3,1.8)(3.17,3.6)(3.17,2.2)(3.32,3.0)(3.32,1.9)(3.32,.8)(3.46,2.6)(3.46,1.5)(3.58,3.1)(3.58,2.0)(3.58,.9)(3.7,2.7)(3.7,1.5)(3.81,3.3)(3.81,2.2)(3.81,1.1)(3.91,2.8)(3.91,1.7)(4,3.4)(4,2.4)(4,1.3)(4.1,2.8)(4.1,1.7)(4.2,3.6)(4.2,2.2)(4.2,1.0)(4.3,3.4)(4.3,2.3)(4.4,2.8)(4.4,1.6)(4.5,3.7)(4.5,1.5)(4.7,3.4)(4.7,2.2)(4.7,.8)(4.9,2.7)(5.1,2.3)(5.3,2.6)(3.7,-.5)(4,-.4)(4.3,-.6)(4.5,-1.4)(3.3,-.4)(3.0,.5)};
\end{axis}

% annotations and the diagram, in reference pixels
\begin{scope}[x=1pt,y=-1pt,shift={(0pt,1033pt)}]
\tikzset{stat/.style={font=\bfseries\fs{9.2},inner sep=0pt},
  letter/.style={font=\bfseries\fs{14},inner sep=0pt},
  gene/.style={font=\bfseries\fs{14.5},text=boxblue,inner sep=0pt},
  box/.style={draw=black!90,line width=1.7pt,fill=white}}
\node[letter] at (7,10.7) {A};
\node[letter] at (6,285.7) {B};
\node[letter] at (7,661) {C};

\foreach \X/\Y/\R/\P in {
  146/306/R=0.4542/P<0.0001, 328.7/306.5/R=0.2302/P<0.0002, 509.5/311.7/R=0.3917/P<0.0001, 691.7/306/R=0.3789/P<0.0001,
  147.5/482.3/R=0.2796/P<0.0001, 328.3/482.7/R=0.3036/P<0.0001, 504.5/478.3/R=0.2793/P<0.0001, 691/472.3/R=0.5084/P<0.0001,
  160.7/679.7/R=-0.0485/P=0.4441, 386.7/681.7/R=-0.1427/P=0.0094, 594.3/678.3/R=-0.1480/P=0.0205,
  160/878.3/R=-0.1694/P=0.0012, 385/876/R=-0.1250/P=0.0168, 595.3/872.3/R=-0.0952/P=0.0733}
  {\node[stat] at (\X,\Y) {\R}; \node[stat] at (\X,\Y+12) {\P};}

\draw[line width=1.5pt,black!85] (146.4,58) -- (146.4,87) -- (531.4,87) -- (531.4,56);
\draw[line width=3.4pt,black!90] (341.4,87) -- (341.4,122);
\fill[black!90] (316.4,120.4) rectangle (366.8,124.8);
\draw[line width=1pt,black!85] (342,183) -- (342,198);
\draw[line width=2pt,black!90] (193,198.2) -- (480,198.2);
\draw[line width=3.4pt,black!90] (194,198) -- (194,232);
\draw[line width=3.4pt,black!90] (479.3,198) -- (479.3,236);
\fill[black!90] (168,231.8) rectangle (219.3,236.8);
\fill[black!90] (454,235.7) rectangle (504.6,240.7);

\path[box] (86.8,1.8) rectangle (207.9,58);
\path[box] (216.8,2.9) rectangle (338.6,59);
\path[box] (347,3.6) rectangle (468.6,60);
\path[draw=black!90,line width=1.7pt] (475.7,3.6) rectangle (597,60);
\path[box] (281.8,126) rectangle (402.9,183.2);
\path[box] (141.4,239) rectangle (249.6,278.6);
\path[box] (426.8,242) rectangle (534.6,281.4);
\node[gene] at (148.6,31.4) {NAV2-AS4};
\node[gene] at (282,31.4) {LINC02691};
\node[gene] at (410.4,34) {LINC02499};
\node[gene] at (540,33) {LINC01354};
\node[gene,text=mirred] at (344.6,158) {hsa-miR-212-3p};
\node[gene] at (199.3,260) {SLC6A1};
\node[gene] at (481.4,261.4) {SEC14L2};
\end{scope}
\end{tikzpicture}
\end{document}
